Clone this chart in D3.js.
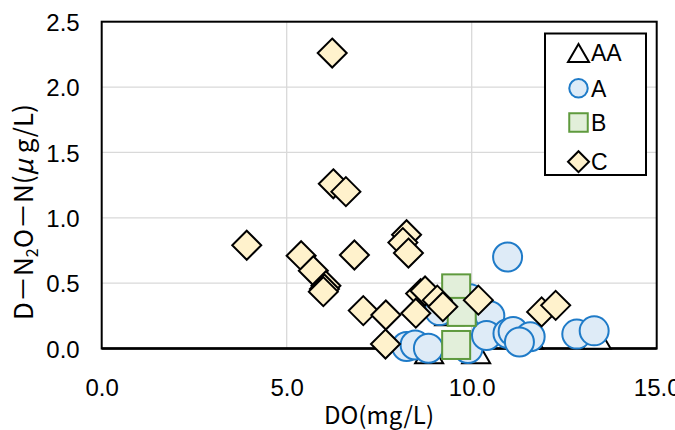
<!DOCTYPE html>
<html><head><meta charset="utf-8">
<script src="https://cdn.jsdelivr.net/npm/d3@7"></script>
<style>body{margin:0;background:#fff}svg{display:block}</style>
</head><body>
<svg id="c" width="675" height="430"></svg>
<script>
// ---- data ----
const seriesNames = ["AA","A","B","C"];
const xTickValues = [0,5,10,15];
const yTickValues = [0,0.5,1.0,1.5,2.0,2.5];
const aaDO  = [8.85, 9.39, 10.12, 11.55, 13.38];
const aaN2O = [-0.02, 0.27, -0.02, 0.09, 0.09];
const aDO   = [10.97, 8.24, 8.47, 8.83, 9.13, 9.90, 9.95, 10.49, 10.40, 10.98, 11.12, 11.58, 11.29, 12.84, 13.31];
const aN2O  = [0.70, 0.015, 0.027, 0.002, 0.29, 0.0, 0.38, 0.25, 0.10, 0.115, 0.13, 0.09, 0.05, 0.11, 0.135];
const bDO   = [9.58, 9.73, 9.58];
const bN2O  = [0.46, 0.28, 0.027];
const cDO   = [6.23, 6.26, 6.60, 3.92, 5.39, 5.72, 6.06, 6.02, 5.99, 6.83, 7.07, 7.68, 7.67, 8.24, 8.14, 8.29, 8.62, 8.74, 8.49, 9.07, 9.22, 10.18, 11.89, 12.27];
const cN2O  = [2.26, 1.26, 1.20, 0.79, 0.71, 0.595, 0.48, 0.455, 0.435, 0.715, 0.29, 0.256, 0.034, 0.87, 0.81, 0.73, 0.42, 0.44, 0.27, 0.37, 0.32, 0.37, 0.28, 0.33];

// ---- layout ----
const svg = d3.select("#c");
const L = 101.7, R = 656.7, T = 21.7, B = 348.5;
const x = d3.scaleLinear().domain([0,15]).range([L,R]);
const y = d3.scaleLinear().domain([0,2.5]).range([B,T]);
const tickFont = "'Liberation Sans', Arial, sans-serif";
const jpFont = "'Noto Sans CJK JP', sans-serif";

// gridlines
svg.append("g").selectAll("line.h").data(yTickValues.filter(v=>v>0&&v<2.5)).join("line")
  .attr("x1",L).attr("x2",R).attr("y1",d=>y(d)).attr("y2",d=>y(d))
  .attr("stroke","#d9d9d9").attr("stroke-width",1.3);
svg.append("g").selectAll("line.v").data(xTickValues.filter(v=>v>0&&v<15)).join("line")
  .attr("y1",T).attr("y2",B).attr("x1",d=>x(d)).attr("x2",d=>x(d))
  .attr("stroke","#d9d9d9").attr("stroke-width",1.3);

// axes (labels only)
const xAxis = d3.axisBottom(x).tickValues(xTickValues).tickFormat(d3.format(".1f")).tickSize(0).tickPadding(0);
const gx = svg.append("g").attr("transform",`translate(0,${B})`).call(xAxis);
gx.select(".domain").remove();
gx.selectAll("text").attr("font-family",tickFont).attr("font-size",24).attr("fill","#000")
  .attr("dy",null).attr("y",47);
const yAxis = d3.axisLeft(y).tickValues(yTickValues).tickFormat(d3.format(".1f")).tickSize(0).tickPadding(0);
const gy = svg.append("g").attr("transform",`translate(${L},0)`).call(yAxis);
gy.select(".domain").remove();
gy.selectAll("text").attr("font-family",tickFont).attr("font-size",24).attr("fill","#000")
  .attr("x",-22).attr("dy","0.36em");

// plot border
svg.append("rect").attr("x",L).attr("y",T).attr("width",R-L).attr("height",B-T)
  .attr("fill","none").attr("stroke","#000").attr("stroke-width",2);
svg.append("line").attr("x1",L).attr("x2",R).attr("y1",B).attr("y2",B).attr("stroke","#000").attr("stroke-width",2.6);

// markers
const styles = {
  AA:{fill:"#ffffff",stroke:"#000000"},
  A:{fill:"#deebf7",stroke:"#1f7bc8"},
  B:{fill:"#e2efda",stroke:"#5f9a3e"},
  C:{fill:"#fff2cc",stroke:"#000000"}
};
function marker(g, type, cx, cy, s){
  const st = styles[type];
  if(type==="AA"){
    const h = s*0.86;
    g.append("path").attr("d",`M${cx-s/2},${cy+h/2}L${cx},${cy-h/2}L${cx+s/2},${cy+h/2}Z`)
      .attr("fill",st.fill).attr("stroke",st.stroke).attr("stroke-width",2);
  } else if(type==="A"){
    g.append("circle").attr("cx",cx).attr("cy",cy).attr("r",s/2)
      .attr("fill",st.fill).attr("stroke",st.stroke).attr("stroke-width",2);
  } else if(type==="B"){
    g.append("rect").attr("x",cx-s/2).attr("y",cy-s/2).attr("width",s).attr("height",s)
      .attr("fill",st.fill).attr("stroke",st.stroke).attr("stroke-width",2);
  } else {
    const r = s/2;
    g.append("path").attr("d",`M${cx},${cy-r}L${cx+r},${cy}L${cx},${cy+r}L${cx-r},${cy}Z`)
      .attr("fill",st.fill).attr("stroke",st.stroke).attr("stroke-width",2);
  }
}
const gm = svg.append("g");
aaDO.forEach((d,i)=>marker(gm,"AA",x(d),y(aaN2O[i]),28));
aDO.forEach((d,i)=>marker(gm,"A",x(d),y(aN2O[i]),29));
bDO.forEach((d,i)=>marker(gm,"B",x(d),y(bN2O[i]),28));
cDO.forEach((d,i)=>marker(gm,"C",x(d),y(cN2O[i]),29));

// legend
const lg = svg.append("g");
lg.append("rect").attr("x",545).attr("y",33.5).attr("width",101).attr("height",141.5)
  .attr("fill","#fff").attr("stroke","#000").attr("stroke-width",2);
const legY = [53, 88.3, 122.5, 161.7];
seriesNames.forEach((n,i)=>{
  marker(lg,n,578.5,legY[i], n==="C"?21:(n==="AA"?21:18.5));
  lg.append("text").attr("x",591).attr("y",legY[i]).attr("dy","0.36em")
    .attr("font-family",tickFont).attr("font-size",23).text(n);
});

// axis titles
svg.append("text").attr("x",379).attr("y",424).attr("text-anchor","middle")
  .attr("font-family",jpFont).attr("font-size",24).text("DO(mg/L)");
const yt = svg.append("text").attr("transform","translate(33,212) rotate(-90)")
  .attr("text-anchor","middle").attr("font-family",jpFont).attr("font-size",26);
yt.append("tspan").text("D－N");
yt.append("tspan").attr("font-size",16).attr("dy",5).text("2");
yt.append("tspan").attr("dy",-5).text("O－N(");
yt.append("tspan").attr("font-style","italic").text("μ");
yt.append("tspan").text(" g/L)");
</script>
</body></html>
